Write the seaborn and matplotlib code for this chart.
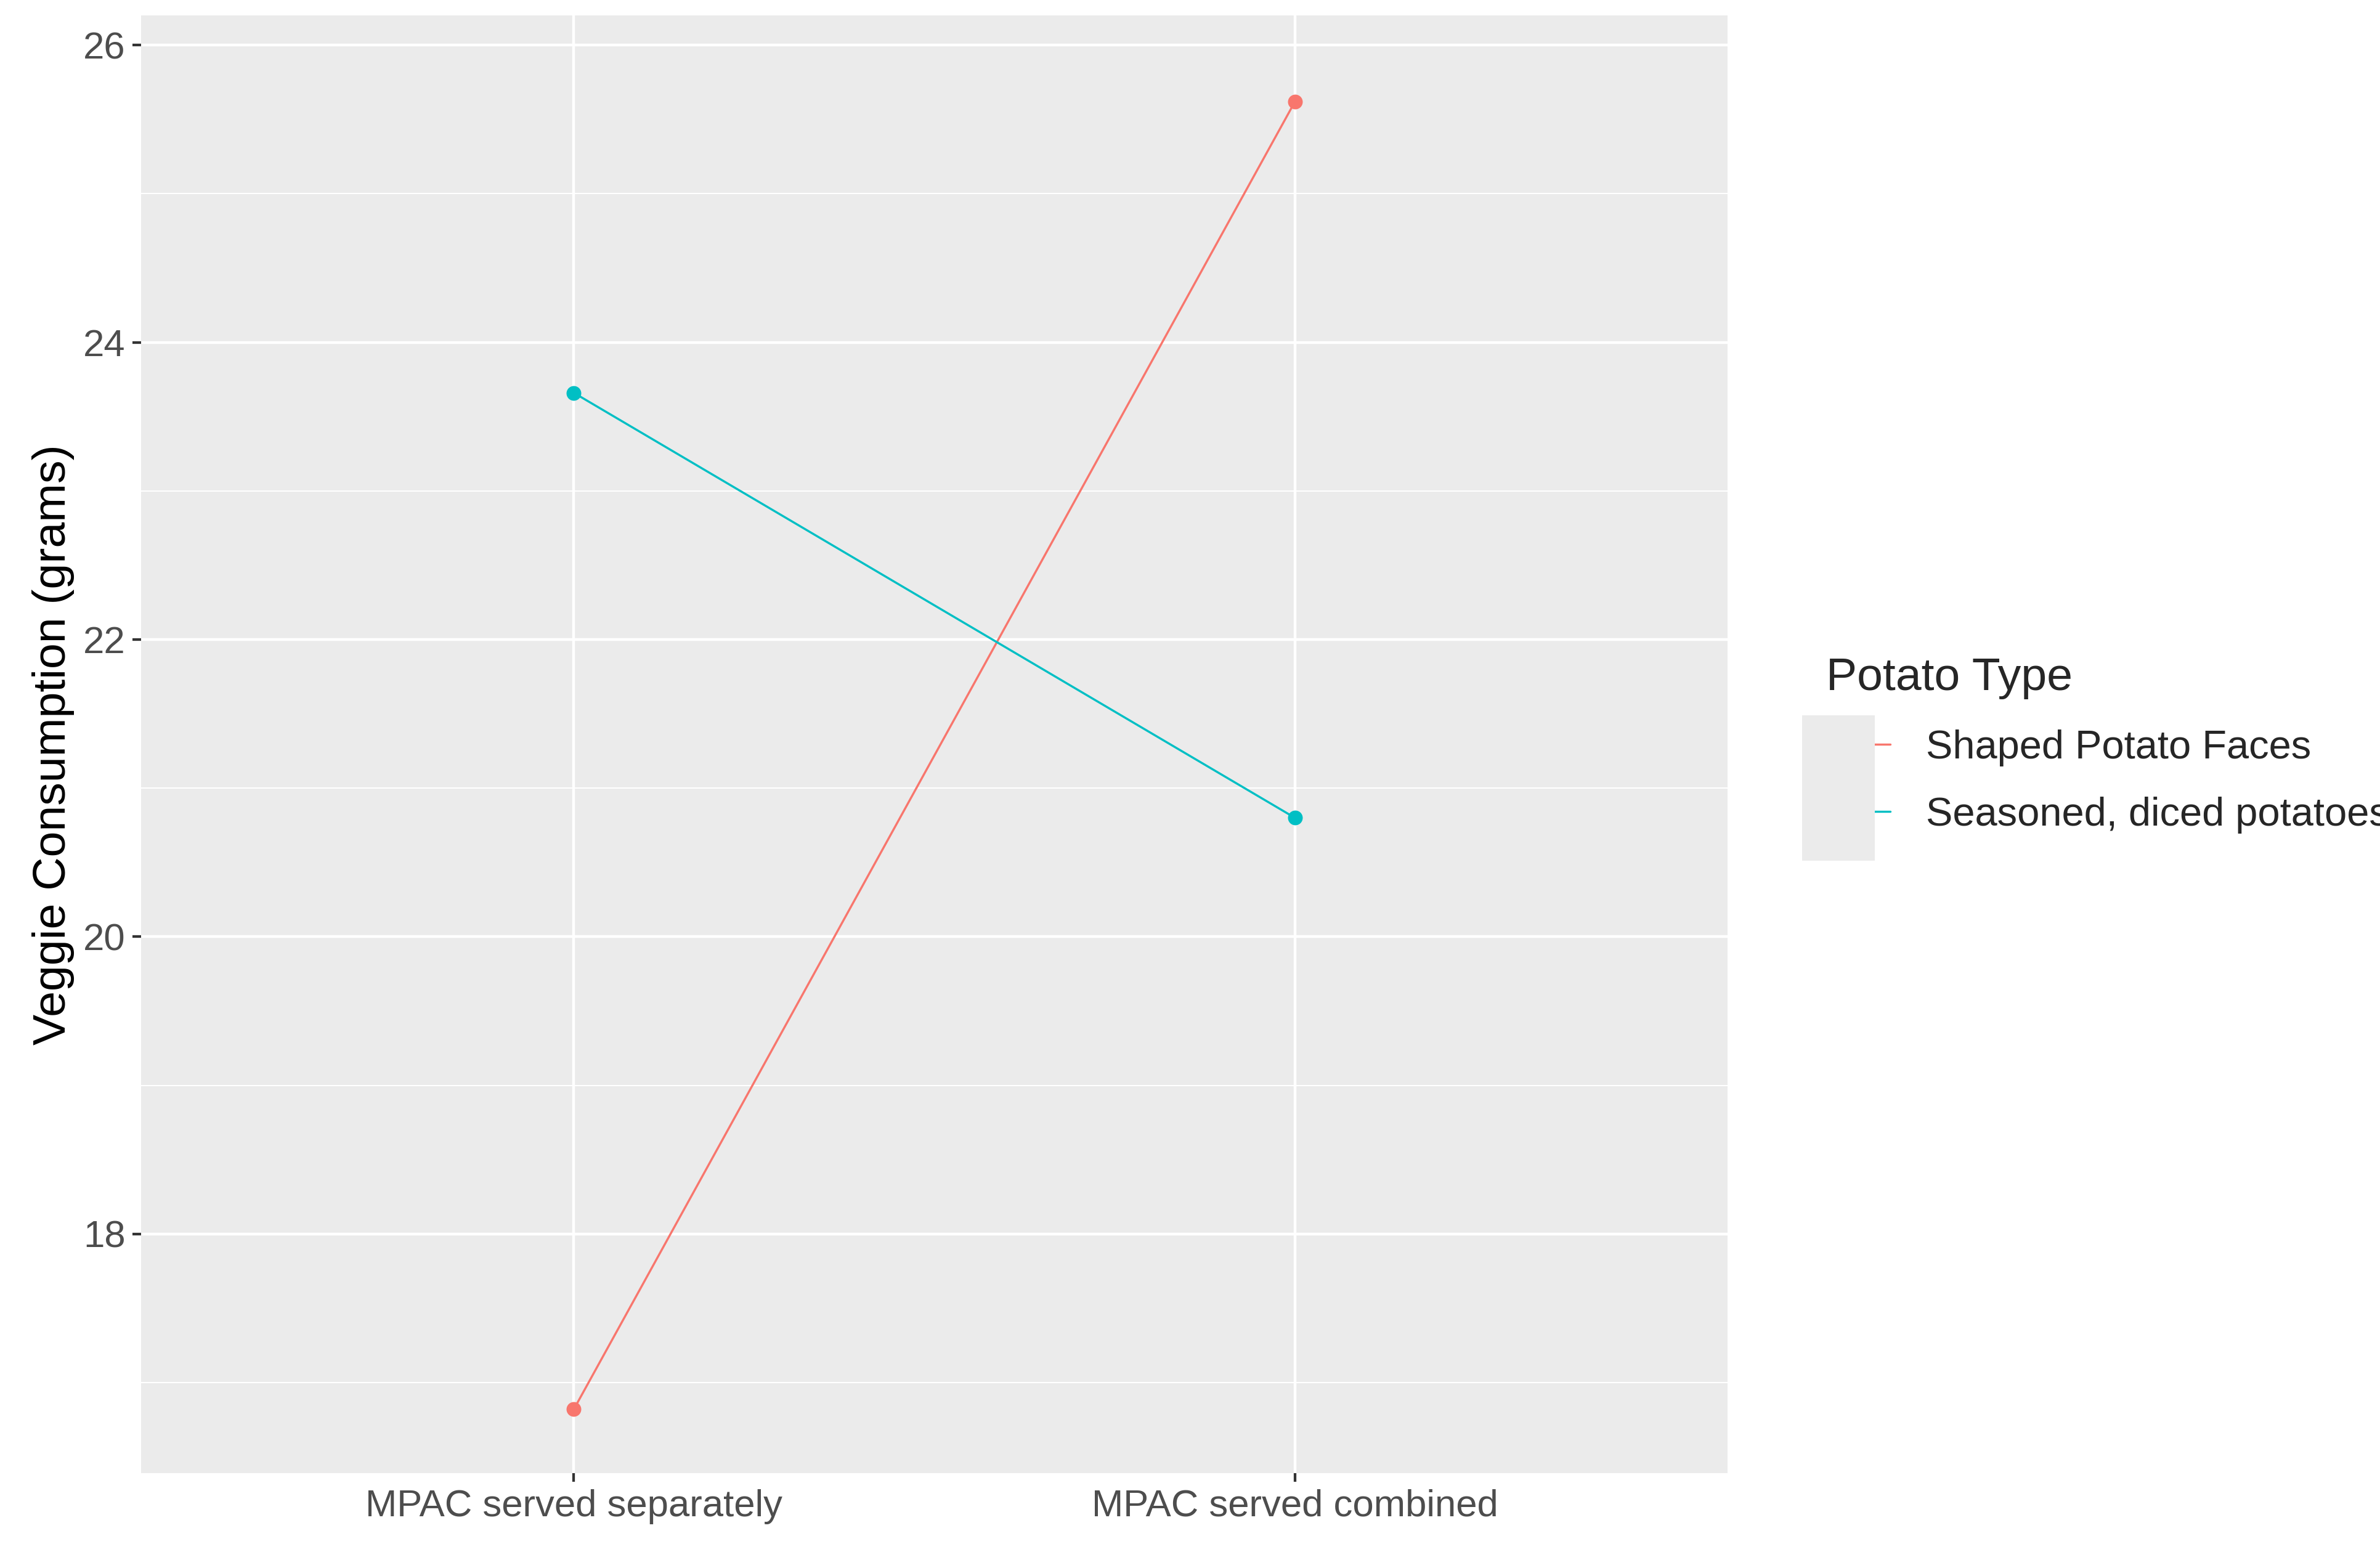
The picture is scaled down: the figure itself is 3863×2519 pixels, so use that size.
import matplotlib
matplotlib.use("Agg")
import matplotlib.pyplot as plt
import matplotlib.patches as mpatches
import seaborn as sns
import pandas as pd
from matplotlib.ticker import MultipleLocator

conditions = ["MPAC served separately", "MPAC served combined"]
potato_types = ["Shaped Potato Faces", "Seasoned, diced potatoes"]
shaped_vals = [16.82, 25.62]
seasoned_vals = [23.66, 20.80]
colors = ["#F8766D", "#00BFC4"]

df = pd.DataFrame({
    "Condition": conditions * 2,
    "Potato Type": [potato_types[0]] * 2 + [potato_types[1]] * 2,
    "Consumption": shaped_vals + seasoned_vals,
})
df["x"] = [0, 1, 0, 1]

sns.set_theme(style="darkgrid", rc={"axes.facecolor": "#EBEBEB", "grid.color": "white"})
plt.rcParams['font.family'] = ['Liberation Sans', 'DejaVu Sans']

fig = plt.figure(figsize=(15.68, 10.224), dpi=246.4)
ax = fig.add_axes([0.0593, 0.0508, 0.6665, 0.9392])
sns.lineplot(data=df, x="x", y="Consumption", hue="Potato Type", palette=colors,
             marker="o", markersize=7, markeredgewidth=0, linewidth=1, ax=ax)
ax.set_xlim(-0.6, 1.6)
ax.set_ylim(16.39, 26.2)
ax.set_xticks([0, 1])
ax.set_xticklabels(conditions, fontsize=18, color="#4D4D4D")
ax.yaxis.set_major_locator(MultipleLocator(2))
ax.yaxis.set_minor_locator(MultipleLocator(1))
ax.tick_params(axis="y", labelsize=18, labelcolor="#4D4D4D", which="major", length=4, color="#333333", left=True)
ax.tick_params(axis="x", length=4, color="#333333", bottom=True)
ax.grid(which="major", color="white", linewidth=1.3)
ax.grid(which="minor", axis="y", color="white", linewidth=0.6)
for s in ax.spines.values():
    s.set_visible(False)
ax.set_xlabel("")
ax.set_ylabel("Veggie Consumption (grams)", fontsize=22, color="black")

# grey key background
fig.patches.append(mpatches.Rectangle((1187/1568, 1 - 568/1024), 48/1568, 96/1024,
                                      transform=fig.transFigure, facecolor="#EBEBEB",
                                      edgecolor="none", zorder=0))

leg = ax.legend(title="Potato Type", loc="upper left", bbox_to_anchor=(0.752, 0.6),
                bbox_transform=fig.transFigure, frameon=False, fontsize=19,
                title_fontsize=22, handlelength=1.6, handletextpad=0.9, labelspacing=0.75)
leg._legend_box.align = "left"

fig.savefig("out.png", dpi=246.4)
